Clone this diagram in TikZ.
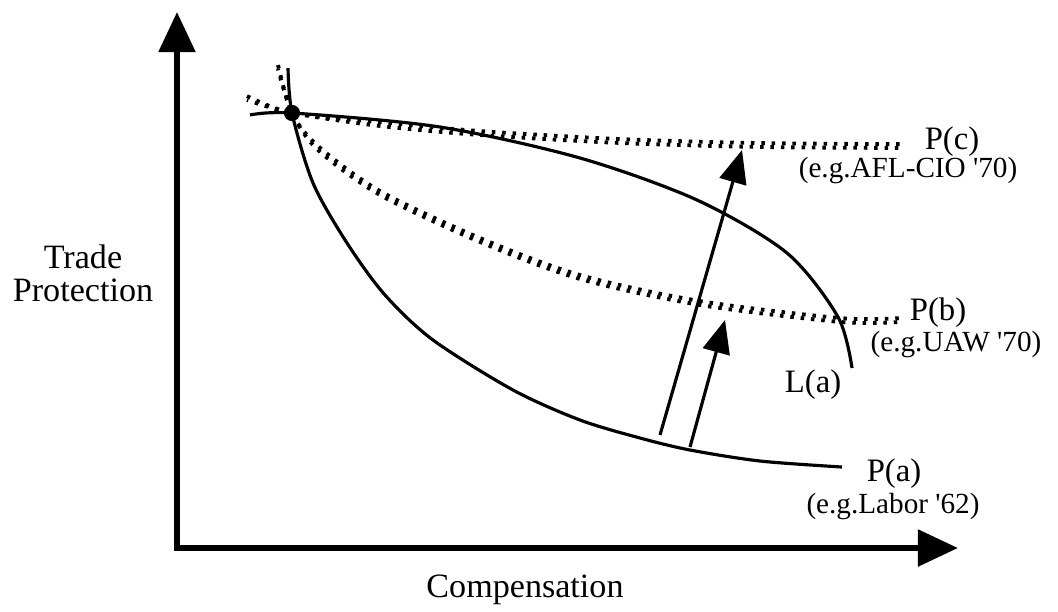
\documentclass[tikz,border=0pt]{standalone}
\usepackage{fontspec}
\setmainfont{Liberation Serif}
\usetikzlibrary{arrows.meta}
\tikzset{
  axisline/.style={line width=1.7pt,line join=miter,
    {Triangle[length=11.4pt,width=10.2pt]}-{Triangle[length=11.4pt,width=10.2pt]}},
  solidcurve/.style={line width=0.9pt},
  hatchtop/.style={line width=1.1pt,line cap=butt,dash pattern=on 1pt off 1.95pt,yshift=0.55pt},
  hatchlow/.style={line width=1.1pt,line cap=butt,dash pattern=on 1pt off 1.95pt,
    dash phase=0.6pt,yshift=-0.55pt},
  shiftarrow/.style={line width=0.9pt,-{Triangle[length=9.4pt,width=7.8pt]}},
  biglbl/.style={font=\fontsize{9.7}{9.3}\selectfont},
  plbl/.style={font=\fontsize{9.3}{11}\selectfont,anchor=base},
  sublbl/.style={font=\fontsize{8.3}{10}\selectfont,anchor=base},
}
\newcommand{\hatchcurve}[1]{%
  \draw[hatchtop] plot[smooth] coordinates {#1};
  \draw[hatchlow] plot[smooth] coordinates {#1};}

\begin{document}
\begin{tikzpicture}[x=0.01cm,y=-0.01cm]
\useasboundingbox (0,0) rectangle (1058,611);
% axes
\coordinate (ytip) at (177,12);
\coordinate (origin) at (177,548);
\coordinate (xtip) at (958,548);
\draw[axisline] (ytip) -- (origin) -- (xtip);
\node[biglbl,align=center] (ylbl) at (83,273) {Trade\\Protection};
\node[biglbl,anchor=base] (xlbl) at (525,597) {Compensation};
% curves
\coordinate (eq) at (292,113);
\draw[solidcurve] plot[smooth] coordinates {(250,115) (eq) (440,127) (580,158)
  (697,200) (787,253) (838,317) (852,368)};
\draw[solidcurve] plot[smooth] coordinates {(288,68) (eq) (313,183) (347,243) (385,295)
  (433,340) (513,390) (580,420) (640,438) (690,450) (760,461) (842,467)};
\hatchcurve{(278,67) (eq) (318,148) (380,193) (480,240) (580,277) (700,303)
  (840,320) (900,320)}
\hatchcurve{(247,98) (eq) (380,124) (480,133) (620,141) (760,145) (900,146)}
\fill (eq) circle[radius=2.3pt];
% shifts
\coordinate (longfoot) at (660,435);
\coordinate (longtip) at (742,150);
\coordinate (shortfoot) at (690,447);
\coordinate (shorttip) at (725,320);
\draw[shiftarrow] (longfoot) -- (longtip);
\draw[shiftarrow] (shortfoot) -- (shorttip);
% labels
\node[plbl] (pc) at (952,149) {P(c)};
\node[sublbl] (pcnote) at (908,177) {(e.g.AFL-CIO \textquotesingle70)};
\node[plbl] (pb) at (938,320) {P(b)};
\node[sublbl] (pbnote) at (956,351) {(e.g.UAW \textquotesingle70)};
\node[plbl] (la) at (813,392) {L(a)};
\node[plbl] (pa) at (894,481) {P(a)};
\node[sublbl] (panote) at (893,513) {(e.g.Labor \textquotesingle62)};
\end{tikzpicture}
\end{document}
